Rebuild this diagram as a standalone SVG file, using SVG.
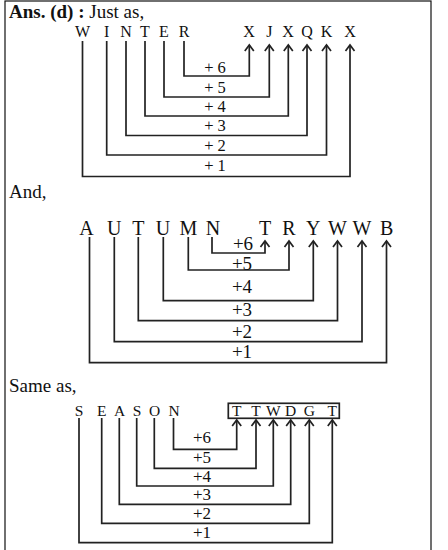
<svg xmlns="http://www.w3.org/2000/svg" width="448" height="550" viewBox="0 0 448 550">
<defs>
<style>
text{font-family:"Liberation Serif","Times New Roman",serif;fill:#111}
.hd{font-size:19px}
.b{font-weight:bold}
.l1{font-size:16px;text-anchor:middle}
.l2{font-size:20px;text-anchor:middle}
.l3{font-size:15.5px;text-anchor:middle}
.p1{font-size:16.5px;text-anchor:middle}
.p2{font-size:19px;text-anchor:middle}
.p3{font-size:17px;text-anchor:middle}
.c{fill:none;stroke:#222;stroke-width:1.7;marker-end:url(#ah)}
</style>
<marker id="ah" markerUnits="userSpaceOnUse" markerWidth="12" markerHeight="12" refX="0" refY="0" viewBox="-8 -6 10 12" orient="auto" overflow="visible">
<path d="M-6,-4.5 L0,0 L-6,4.5" fill="none" stroke="#222" stroke-width="1.7"/>
</marker>
</defs>
<rect x="5" y="1" width="426" height="570" fill="#fff" stroke="#111" stroke-width="1.2"/>

<g id="headers">
<text class="hd" x="9" y="18"><tspan class="b">Ans. (d) :</tspan> Just as,</text>
<text class="hd" x="9" y="198">And,</text>
<text class="hd" x="9" y="391.5">Same as,</text>
</g>

<g id="winter">
<g id="w1"><text class="l1" x="82.5" y="37">W</text></g>
<g id="w2"><text class="l1" x="106.7" y="37">I</text></g>
<g id="w3"><text class="l1" x="126" y="37">N</text></g>
<g id="w4"><text class="l1" x="145" y="37">T</text></g>
<g id="w5"><text class="l1" x="164" y="37">E</text></g>
<g id="w6"><text class="l1" x="184" y="37">R</text></g>
</g>
<g id="xjxqkx">
<g id="x1"><text class="l1" x="249" y="37">X</text></g>
<g id="x2"><text class="l1" x="269.3" y="37">J</text></g>
<g id="x3"><text class="l1" x="288" y="37">X</text></g>
<g id="x4"><text class="l1" x="307" y="37">Q</text></g>
<g id="x5"><text class="l1" x="326.5" y="37">K</text></g>
<g id="x6"><text class="l1" x="350" y="37">X</text></g>
</g>

<g id="autumn">
<g id="a1"><text class="l2" x="86.5" y="235">A</text></g>
<g id="a2"><text class="l2" x="114.3" y="235">U</text></g>
<g id="a3"><text class="l2" x="138.3" y="235">T</text></g>
<g id="a4"><text class="l2" x="163" y="235">U</text></g>
<g id="a5"><text class="l2" x="188.3" y="235">M</text></g>
<g id="a6"><text class="l2" x="213" y="235">N</text></g>
</g>
<g id="trywwb">
<g id="t1"><text class="l2" x="265" y="235">T</text></g>
<g id="t2"><text class="l2" x="289" y="235">R</text></g>
<g id="t3"><text class="l2" x="313.3" y="235">Y</text></g>
<g id="t4"><text class="l2" x="337.5" y="235">W</text></g>
<g id="t5"><text class="l2" x="362" y="235">W</text></g>
<g id="t6"><text class="l2" x="386.7" y="235">B</text></g>
</g>

<g id="season">
<g id="s1"><text class="l3" x="79" y="415.5">S</text></g>
<g id="s2"><text class="l3" x="101.7" y="415.5">E</text></g>
<g id="s3"><text class="l3" x="119.5" y="415.5">A</text></g>
<g id="s4"><text class="l3" x="137" y="415.5">S</text></g>
<g id="s5"><text class="l3" x="154.7" y="415.5">O</text></g>
<g id="s6"><text class="l3" x="174" y="415.5">N</text></g>
</g>
<g id="ttwdgt">
<rect x="228.3" y="403.3" width="111" height="15" fill="none" stroke="#222" stroke-width="1.7"/>
<g id="r1"><text class="l3" x="236.7" y="415.5">T</text></g>
<g id="r2"><text class="l3" x="256" y="415.5">T</text></g>
<g id="r3"><text class="l3" x="273.3" y="415.5">W</text></g>
<g id="r4"><text class="l3" x="290.7" y="415.5">D</text></g>
<g id="r5"><text class="l3" x="309.3" y="415.5">G</text></g>
<g id="r6"><text class="l3" x="332.3" y="415.5">T</text></g>
</g>

<g id="connectors">
<path class="c" d="M184,41 V76 H249.3 V45"/>
<path class="c" d="M164,41 V97 H269.3 V45"/>
<path class="c" d="M145,41 V116 H288.3 V45"/>
<path class="c" d="M126,41 V135.5 H307 V45"/>
<path class="c" d="M106.7,41 V155 H326.5 V45"/>
<path class="c" d="M82.5,41 V176.5 H350 V45"/>

<path class="c" d="M212,237 V253 H265 V241"/>
<path class="c" d="M188.3,237 V270 H289 V241"/>
<path class="c" d="M163.3,237 V300.7 H313.3 V241"/>
<path class="c" d="M138.3,237 V320.7 H337.5 V241"/>
<path class="c" d="M114.3,237 V341.7 H362 V241"/>
<path class="c" d="M89.5,237 V362.7 H386.5 V241"/>

<path class="c" d="M173.5,418 V449.3 H236.7 V420"/>
<path class="c" d="M154.3,418 V468.3 H256 V420"/>
<path class="c" d="M136.7,418 V486 H273.3 V420"/>
<path class="c" d="M119.3,418 V504.3 H290.7 V420"/>
<path class="c" d="M101.7,418 V523.3 H309.3 V420"/>
<path class="c" d="M79,418 V542.7 H332.3 V420"/>
</g>

<g id="labels">
<text class="p1" x="215" y="72.5">+ 6</text>
<text class="p1" x="215" y="92.5">+ 5</text>
<text class="p1" x="215" y="111.7">+ 4</text>
<text class="p1" x="215" y="131.3">+ 3</text>
<text class="p1" x="215" y="150.7">+ 2</text>
<text class="p1" x="215" y="170.5">+ 1</text>

<text class="p2" x="243" y="250">+6</text>
<text class="p2" x="242" y="269.5">+5</text>
<text class="p2" x="242" y="293">+4</text>
<text class="p2" x="242" y="316">+3</text>
<text class="p2" x="242" y="337.5">+2</text>
<text class="p2" x="242" y="358">+1</text>

<text class="p3" x="202" y="443.3">+6</text>
<text class="p3" x="202" y="463.3">+5</text>
<text class="p3" x="202" y="481.7">+4</text>
<text class="p3" x="202" y="500">+3</text>
<text class="p3" x="202" y="519">+2</text>
<text class="p3" x="202" y="538.3">+1</text>
</g>
</svg>
